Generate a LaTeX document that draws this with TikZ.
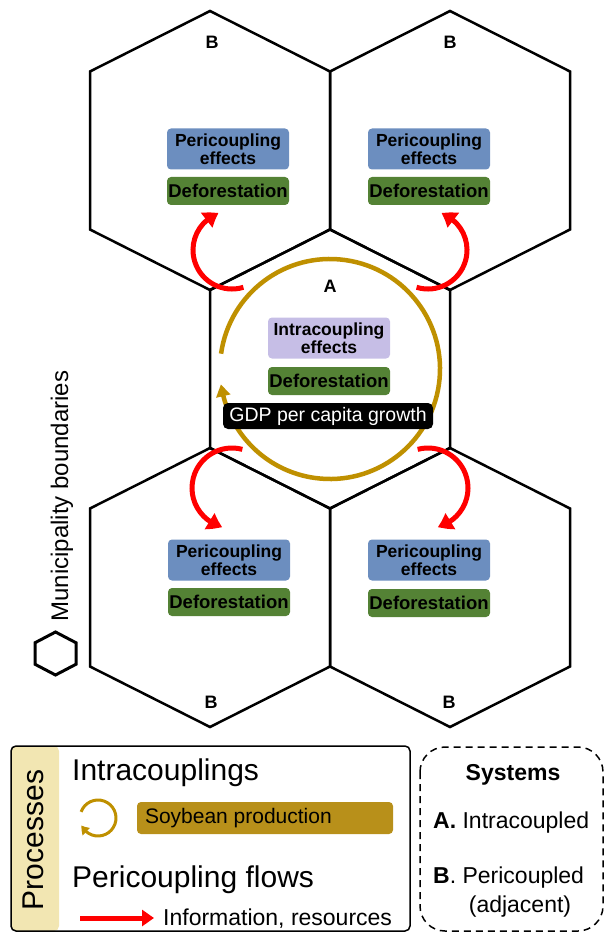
\documentclass[tikz,border=0pt]{standalone}
\usepackage{fontspec}
\setmainfont{Liberation Sans}
\usetikzlibrary{arrows.meta,bending}
\definecolor{gold}{RGB}{191,144,0}
\definecolor{soy}{RGB}{184,144,26}
\definecolor{periblue}{RGB}{108,142,191}
\definecolor{defgreen}{RGB}{84,130,53}
\definecolor{lav}{RGB}{198,190,230}
\definecolor{tanstrip}{RGB}{242,230,178}
\definecolor{flowred}{RGB}{255,0,0}
\newcommand{\fsz}[1]{\fontsize{#1}{#1}\selectfont}
\begin{document}
\begin{tikzpicture}[x=1pt,y=-1pt,
  hexline/.style={line width=2.5pt,line join=miter},
  hexa/.pic={\draw[hexline] (0,-139.5) -- (120,-79) -- (120,79) -- (0,139.5) -- (-120,79) -- (-120,-79) -- cycle;},
  peribox/.style={fill=periblue, rounded corners=4pt, minimum width=122pt, minimum height=41pt, inner sep=0pt, align=center, font=\fontsize{17.5}{18.5}\selectfont\bfseries},
  intrabox/.style={peribox, fill=lav},
  defbox/.style={fill=defgreen, rounded corners=4pt, minimum width=122pt, minimum height=28pt, inner sep=0pt, font=\fsz{18.5}\bfseries},
  gdpbox/.style={fill=black, text=white, rounded corners=5pt, minimum width=210pt, minimum height=26pt, inner sep=0pt, font=\fsz{19.5}},
  syslbl/.style={font=\fsz{18}\bfseries, inner sep=0pt},
  flow/.style={flowred, line width=5pt, -{Triangle[length=14pt,width=18pt,bend]}},
  legtxt/.style={anchor=base west, inner sep=0pt},
]
\useasboundingbox (0,0) rectangle (604,933);

% hexagons
\coordinate (TL) at (210,150.5);
\coordinate (TR) at (450,150.5);
\coordinate (A)  at (330,369);
\coordinate (BL) at (210,587.5);
\coordinate (BR) at (450,587.5);
\pic at (TL) {hexa};
\pic at (TR) {hexa};
\pic at (A) {hexa};
\pic at (BL) {hexa};
\pic at (BR) {hexa};

% intracoupling loop
\draw[gold, line width=4.5pt, -{Triangle[length=12pt,width=14pt,bend]}]
  (A) ++(188:110) arc[start angle=188, end angle=532, radius=110];

% pericoupling flows
\coordinate (c1) at (232,250);
\coordinate (c2) at (428,250);
\coordinate (c3) at (232,488);
\coordinate (c4) at (428,488);
\draw[flow] (c1) ++(73:39) arc[start angle=73, end angle=250, radius=39];
\draw[flow] (c2) ++(107:39) arc[start angle=107, end angle=-70, radius=39];
\draw[flow] (c3) ++(285:40) arc[start angle=285, end angle=104, radius=40];
\draw[flow] (c4) ++(255:40) arc[start angle=255, end angle=436, radius=40];

% boxes
\node[peribox] (p1) at (228,149) {Pericoupling\\effects};
\node[defbox]  (d1) at (228,191) {Deforestation};
\node[peribox] (p2) at (429,149) {Pericoupling\\effects};
\node[defbox]  (d2) at (429,191) {Deforestation};
\node[peribox] (p3) at (229,560) {Pericoupling\\effects};
\node[defbox]  (d3) at (229,602) {Deforestation};
\node[peribox] (p4) at (429,560) {Pericoupling\\effects};
\node[defbox]  (d4) at (429,603) {Deforestation};
\node[intrabox] (ie) at (329,338) {Intracoupling\\effects};
\node[defbox]  (d0) at (329,381) {Deforestation};
\node[gdpbox]  (gdp) at (328,416) {GDP per capita growth};

\node[syslbl] (la) at (330,286) {A};
\node[syslbl] (lb1) at (212,42) {B};
\node[syslbl] (lb2) at (450,42) {B};
\node[syslbl] (lb3) at (211,702) {B};
\node[syslbl] (lb4) at (449,702) {B};

% municipality legend
\draw[line width=3pt, line join=miter] (55.5,632) -- (76,642.75) -- (76,664.25) -- (55.5,675) -- (35,664.25) -- (35,642.75) -- cycle;
\node[rotate=90, anchor=base, inner sep=0pt, font=\fsz{24}] (mun) at (68,496) {Municipality boundaries};

% processes legend
\fill[tanstrip, rounded corners=5pt] (11,746) rectangle (59,931);
\draw[line width=1.5pt, rounded corners=5pt] (11,746) rectangle (410,931);
\node[rotate=90, anchor=base, inner sep=0pt, font=\fsz{30}] (proc) at (43,840) {Processes};
\node[legtxt, font=\fsz{30}] (intra) at (72,780) {Intracouplings};
\coordinate (ic) at (98,818);
\draw[gold, line width=3pt, -{Triangle[length=8pt,width=10pt,bend]}]
  (ic) ++(200:18) arc[start angle=200, end angle=516, radius=18];
\node[fill=soy, rounded corners=4pt, minimum width=256pt, minimum height=32pt, inner sep=0pt] (soyb) at (265,818) {};
\node[anchor=west, inner sep=0pt, font=\fsz{21}] (soyt) at ([xshift=8pt]soyb.west) {Soybean production};
\node[legtxt, font=\fsz{30}] (peri) at (72,887) {Pericoupling flows};
\coordinate (fa) at (80,918);
\coordinate (fb) at (154,918);
\draw[flowred, line width=5pt, -{Triangle[length=12pt,width=16pt]}] (fa) -- (fb);
\node[legtxt, font=\fsz{23}] (info) at (163,925) {Information, resources};

% systems legend
\draw[line width=1.5pt, dash pattern=on 7pt off 5pt, rounded corners=25pt] (420,747) rectangle (603,931);
\node[anchor=base, inner sep=0pt, font=\fsz{23}\bfseries] (sys) at (513,780) {Systems};
\node[legtxt, font=\fsz{23}] (sa) at (433,828) {\textbf{A.} Intracoupled};
\node[legtxt, font=\fsz{23}] (sb) at (433,883) {\textbf{B}. Pericoupled};
\node[anchor=base, inner sep=0pt, font=\fsz{23}] (sc) at (520,912) {(adjacent)};
\end{tikzpicture}
\end{document}
